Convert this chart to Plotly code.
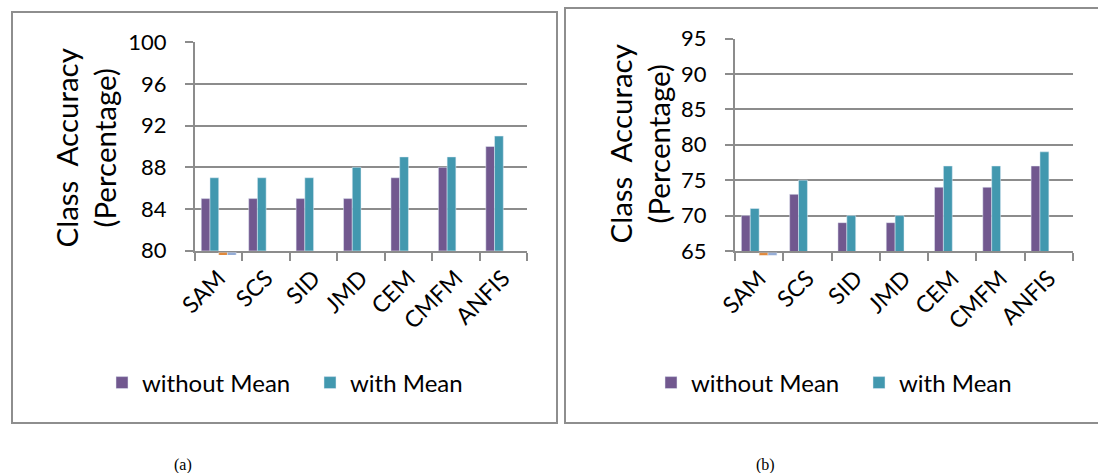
import plotly.graph_objects as go

# Classification accuracy (%) per method, two experiments
methods = ["SAM", "SCS", "SID", "JMD", "CEM", "CMFM", "ANFIS"]

a_without_mean = [85, 85, 85, 85, 87, 88, 90]
a_with_mean = [87, 87, 87, 88, 89, 89, 91]

b_without_mean = [70, 73, 69, 69, 74, 74, 77]
b_with_mean = [71, 75, 70, 70, 77, 77, 79]

# two empty series sitting below the axis minimum (only SAM has an entry)
empty_series_1 = [0, None, None, None, None, None, None]
empty_series_2 = [0, None, None, None, None, None, None]

a_ticks = [80, 84, 88, 92, 96, 100]
b_ticks = [65, 70, 75, 80, 85, 90, 95]

W, H = 1098, 473
PURPLE = "#71588F"
TEAL = "#4298AF"
ORANGE = "#E0883A"
LIGHTBLUE = "#94ACD6"
GRID = "#8c8c8c"
FONT = "Lato"


def px_x(v):
    return v / W


def px_y(v):
    return 1 - v / H


# plot-area boxes in pixels: (left, right, top, bottom)
A_BOX = (195, 527, 42.3, 250.7)
B_BOX = (735, 1073, 38.5, 251.0)

BW = 0.184  # width of one bar slot (category units)

fig = go.Figure()


def below_min(values, ymin):
    # bars grow from the axis minimum toward their (off-scale) value
    return [None if v is None else v - ymin for v in values]


def add_panel(xa, ya, xs, ys, without, with_, empty1, empty2, ymin, legend):
    fig.add_trace(go.Bar(x=methods, y=without, name="without Mean",
                         marker_color=PURPLE, width=BW, offset=-2 * BW,
                         xaxis=xa, yaxis=ya, legend=legend))
    fig.add_trace(go.Bar(x=methods, y=with_, name="with Mean",
                         marker_color=TEAL, width=BW, offset=-BW,
                         xaxis=xa, yaxis=ya, legend=legend))
    fig.add_trace(go.Bar(x=methods, y=below_min(empty1, ymin), base=ymin,
                         marker_color=ORANGE, width=BW, offset=0,
                         xaxis=xs, yaxis=ys, showlegend=False))
    fig.add_trace(go.Bar(x=methods, y=below_min(empty2, ymin), base=ymin,
                         marker_color=LIGHTBLUE, width=BW, offset=BW,
                         xaxis=xs, yaxis=ys, showlegend=False))


add_panel("x", "y", "x3", "y3", a_without_mean, a_with_mean,
          empty_series_1, empty_series_2, a_ticks[0], "legend")
add_panel("x2", "y2", "x4", "y4", b_without_mean, b_with_mean,
          empty_series_1, empty_series_2, b_ticks[0], "legend2")

ytickfont = dict(family=FONT, size=22, color="#000000")
xtickfont = dict(family=FONT, size=23, color="#000000")


def yaxis_cfg(box, ticks, anchor):
    return dict(
        domain=[px_y(box[3]), px_y(box[2])], anchor=anchor,
        range=[ticks[0], ticks[-1]], tickvals=ticks,
        showgrid=True, gridcolor=GRID, gridwidth=2,
        showline=True, linecolor=GRID, linewidth=2,
        ticks="outside", ticklen=8, tickwidth=2, tickcolor=GRID,
        tickfont=ytickfont, ticklabelstandoff=14,
        zeroline=False, fixedrange=True, automargin=False,
    )


def xaxis_cfg(box, anchor):
    return dict(
        domain=[px_x(box[0]), px_x(box[1])], anchor=anchor,
        type="category", categoryorder="array", categoryarray=methods,
        range=[-0.5, len(methods) - 0.5],
        showgrid=False, showline=True, linecolor=GRID, linewidth=2,
        ticks="outside", tickson="boundaries", ticklen=8, tickwidth=2,
        tickcolor=GRID, tickangle=-45, tickfont=xtickfont,
        ticklabelstandoff=3,
        zeroline=False, fixedrange=True, automargin=False,
    )


def strip_x(box, anchor, match):
    return dict(domain=[px_x(box[0]), px_x(box[1])], anchor=anchor,
                matches=match, visible=False, type="category",
                categoryorder="array", categoryarray=methods,
                automargin=False)


def strip_y(box, ymin, anchor):
    return dict(domain=[px_y(box[3] + 4.2), px_y(box[3] + 1.6)],
                anchor=anchor, range=[ymin - 1, ymin], visible=False,
                fixedrange=True, automargin=False)


fig.update_layout(
    width=W, height=H,
    margin=dict(l=0, r=0, t=0, b=0, pad=0, autoexpand=False),
    paper_bgcolor="white", plot_bgcolor="rgba(0,0,0,0)",
    barmode="overlay",
    xaxis=xaxis_cfg(A_BOX, "y"),
    yaxis=yaxis_cfg(A_BOX, a_ticks, "x"),
    xaxis2=xaxis_cfg(B_BOX, "y2"),
    yaxis2=yaxis_cfg(B_BOX, b_ticks, "x2"),
    xaxis3=strip_x(A_BOX, "y3", "x"),
    yaxis3=strip_y(A_BOX, a_ticks[0], "x3"),
    xaxis4=strip_x(B_BOX, "y4", "x2"),
    yaxis4=strip_y(B_BOX, b_ticks[0], "x4"),
    legend=dict(orientation="h", x=px_x(102), y=px_y(383),
                xanchor="left", yanchor="middle",
                font=dict(family=FONT, size=24, color="#000000"),
                entrywidth=163, bgcolor="rgba(0,0,0,0)"),
    legend2=dict(orientation="h", x=px_x(651), y=px_y(383),
                 xanchor="left", yanchor="middle",
                 font=dict(family=FONT, size=24, color="#000000"),
                 entrywidth=163, bgcolor="rgba(0,0,0,0)"),
    showlegend=True,
)

# panel frames
for x0, x1, y0, y1 in [(12, 557, 12, 423), (565, 1099, 8, 423)]:
    fig.add_shape(type="rect", xref="paper", yref="paper",
                  x0=px_x(x0), x1=px_x(x1), y0=px_y(y1), y1=px_y(y0),
                  line=dict(color="#8e8e8e", width=2),
                  fillcolor="rgba(0,0,0,0)", layer="below")

# y-axis titles
for cx, cy in [(84.5, 148), (638.5, 144)]:
    fig.add_annotation(x=px_x(cx), y=px_y(cy), xref="paper", yref="paper",
                       text="Class  Accuracy<br>(Percentage)", textangle=-90,
                       showarrow=False, xanchor="center", yanchor="middle",
                       font=dict(family=FONT, size=29.5, color="#000000"))

# panel captions
for cx, label in [(183, "(a)"), (765, "(b)")]:
    fig.add_annotation(x=px_x(cx), y=px_y(465), xref="paper", yref="paper",
                       text=label, showarrow=False,
                       xanchor="center", yanchor="middle",
                       font=dict(family="Liberation Serif", size=16,
                                 color="#000000"))

fig.write_html("out.html")
